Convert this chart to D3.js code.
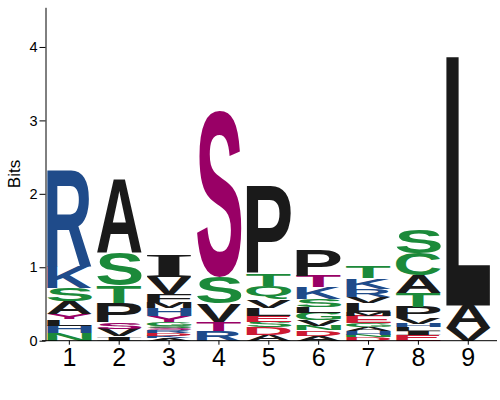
<!DOCTYPE html>
<html>
<head>
    <title>Sequence Logo</title>
    <script src="https://d3js.org/d3.v7.min.js"></script>
    <style>
        body { margin: 0; background: #fff; }
        .axis text { font-family: "Liberation Sans", Arial, sans-serif; fill: #000; }
        .axis path, .axis line { stroke: #000; }
    </style>
</head>
<body>
    <div id="chart"></div>
    <script>
        // positions along the motif
        const positions = [1, 2, 3, 4, 5, 6, 7, 8, 9];
        const yTicks = [0, 1, 2, 3, 4];

        // stacks, bottom to top; lowercase s/t/y = modified residue (drawn magenta)
        const letters1 = ["N", "H", "L", "y", "A", "S", "K", "R"];
        const bits1    = [0.10, 0.10, 0.09, 0.07, 0.18, 0.18, 0.30, 1.30];
        const letters2 = ["I", "V", "s", "P", "T", "S", "A"];
        const bits2    = [0.06, 0.10, 0.09, 0.27, 0.23, 0.45, 1.01];
        const letters3 = ["A", "K", "D", "R", "s", "S", "G", "y", "H", "M", "F", "V", "I"];
        const bits3    = [0.03, 0.04, 0.03, 0.04, 0.03, 0.03, 0.05, 0.08, 0.11, 0.09, 0.11, 0.22, 0.30];
        const letters4 = ["R", "t", "V", "S", "s"];
        const bits4    = [0.13, 0.13, 0.25, 0.35, 2.27];
        const letters5 = ["A", "D", "S", "E", "L", "V", "Q", "T", "P"];
        const bits5    = [0.08, 0.10, 0.08, 0.08, 0.11, 0.11, 0.19, 0.16, 1.20];
        const letters6 = ["A", "D", "N", "V", "G", "L", "S", "K", "t", "P"];
        const bits6    = [0.07, 0.07, 0.06, 0.08, 0.10, 0.08, 0.11, 0.16, 0.15, 0.35];
        const letters7 = ["D", "N", "H", "A", "G", "E", "M", "L", "V", "R", "K", "T"];
        const bits7    = [0.05, 0.03, 0.05, 0.05, 0.06, 0.10, 0.05, 0.12, 0.09, 0.11, 0.14, 0.16];
        const letters8 = ["E", "I", "L", "H", "V", "P", "T", "A", "C", "S"];
        const bits8    = [0.08, 0.05, 0.05, 0.05, 0.08, 0.15, 0.19, 0.24, 0.30, 0.33];
        const letters9 = ["V", "A", "L"];
        const bits9    = [0.17, 0.31, 3.39];

        // colour groups
        const blueLetters = ["K", "R", "H"];
        const greenLetters = ["S", "T", "G", "C", "Q", "N"];
        const redLetters = ["D", "E"];
        const magentaLetters = ["s", "t", "y"];

        const allLetters = [letters1, letters2, letters3, letters4, letters5, letters6, letters7, letters8, letters9];
        const allBits = [bits1, bits2, bits3, bits4, bits5, bits6, bits7, bits8, bits9];

        const width = 500, height = 400;
        const yMax = 4.54;

        const color = d3.scaleOrdinal()
            .domain([...blueLetters, ...greenLetters, ...redLetters, ...magentaLetters])
            .range([
                ...blueLetters.map(() => "#1f4b8a"),
                ...greenLetters.map(() => "#1b8a3a"),
                ...redLetters.map(() => "#cc1a33"),
                ...magentaLetters.map(() => "#990066")
            ])
            .unknown("#1a1a1a");

        const x = d3.scaleBand()
            .domain(positions)
            .range([44.4, 493.2])
            .paddingInner(0.1)
            .paddingOuter(0.05);

        const y = d3.scaleLinear()
            .domain([0, yMax])
            .range([340.7, 7.3]);

        const svg = d3.select("#chart")
            .append("svg")
            .attr("width", width)
            .attr("height", height);

        // glyph ink bounds, measured on a canvas
        const ctx = document.createElement("canvas").getContext("2d");
        const fontFor = ch => ch === "I" ? "'Liberation Serif', serif" : "'Liberation Sans', Arial, sans-serif";
        function glyph(ch) {
            ctx.font = "bold 100px " + fontFor(ch);
            const m = ctx.measureText(ch);
            return {
                l: m.actualBoundingBoxLeft, r: m.actualBoundingBoxRight,
                a: m.actualBoundingBoxAscent, d: m.actualBoundingBoxDescent
            };
        }

        // flatten stacks into boxes
        const boxes = [];
        positions.forEach((p, i) => {
            let acc = 0;
            allLetters[i].forEach((ltr, j) => {
                const b = allBits[i][j];
                boxes.push({ pos: p, letter: ltr, y0: acc, y1: acc + b });
                acc += b;
            });
        });

        svg.append("g")
            .selectAll("text")
            .data(boxes)
            .enter()
            .append("text")
            .text(d => d.letter.toUpperCase())
            .attr("x", 0)
            .attr("y", 0)
            .attr("font-size", 100)
            .attr("font-weight", "bold")
            .attr("font-family", d => fontFor(d.letter.toUpperCase()))
            .attr("fill", d => color(d.letter))
            .attr("transform", d => {
                const g = glyph(d.letter.toUpperCase());
                const bx = x(d.pos), by = y(d.y1);
                const bw = x.bandwidth(), bh = y(d.y0) - y(d.y1);
                const sx = bw / (g.l + g.r), sy = bh / (g.a + g.d);
                return `translate(${bx},${by}) scale(${sx},${sy}) translate(${g.l},${g.a})`;
            });

        // axes
        const yAxis = svg.append("g")
            .attr("class", "axis")
            .attr("transform", "translate(45.5,0)")
            .call(d3.axisLeft(y).tickValues(yTicks).tickFormat(d3.format("d")).tickSize(6).tickSizeOuter(0).tickPadding(2));
        yAxis.selectAll("text").attr("font-size", 14.5);

        const xAxis = svg.append("g")
            .attr("class", "axis")
            .attr("transform", `translate(0,${y(0)})`)
            .call(d3.axisBottom(x).tickSize(4).tickSizeOuter(0).tickPadding(4));
        xAxis.select(".domain").remove();
        xAxis.selectAll("text").attr("font-size", 25);
        xAxis.append("line")
            .attr("x1", 42).attr("x2", 497)
            .attr("stroke", "#000");

        svg.append("text")
            .attr("transform", `translate(20,${(y(0) + y(yMax)) / 2}) rotate(-90)`)
            .attr("text-anchor", "middle")
            .attr("font-family", "'Liberation Sans', Arial, sans-serif")
            .attr("font-size", 17)
            .text("Bits");
    </script>
</body>
</html>
